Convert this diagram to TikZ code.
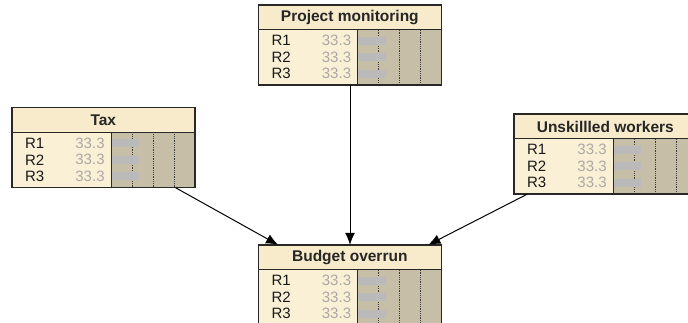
\documentclass[tikz,border=0pt]{standalone}
\usepackage{fontspec}
\setmainfont{Liberation Sans}
\usepackage{tikz}
\usetikzlibrary{arrows.meta}
\definecolor{TitleCream}{RGB}{248,235,204}
\definecolor{StateCream}{RGB}{250,240,214}
\definecolor{BarTaupe}{RGB}{199,190,168}
\definecolor{BarGrey}{RGB}{186,186,186}
\definecolor{ValueGrey}{RGB}{172,168,164}
\definecolor{FrameGrey}{RGB}{40,40,40}
\tikzstyle{netnode} = [rectangle, minimum width=183pt, minimum height=80pt, inner sep=0pt]
\tikzstyle{frame} = [draw=FrameGrey, line width=1.5pt]
\tikzstyle{divider} = [draw=FrameGrey, line width=1.1pt]
\tikzstyle{gridline} = [draw=black!75, line width=0.8pt, densely dotted]
\tikzstyle{titlelabel} = [inner sep=0pt, font=\fontsize{15.5}{16}\selectfont\bfseries, text=black!85]
\tikzstyle{statelabel} = [anchor=west, inner sep=0pt, font=\fontsize{15}{15}\selectfont, text=black!90]
\tikzstyle{valuelabel} = [anchor=east, inner sep=0pt, font=\fontsize{15}{15}\selectfont, text=ValueGrey]
\tikzstyle{line} = [draw, line width=1pt, -{Latex[length=12pt, width=10pt]}]

% one belief box: name, centre, title
\newcommand{\beliefbox}[3]{%
  \node (#1) [netnode] at (#2) {};
  \begin{scope}[shift={(#1.north west)}]
    \fill[StateCream] (0,0) rectangle (99.5,80);
    \fill[BarTaupe] (99.5,25) rectangle (183,80);
    \fill[TitleCream] (0,0) rectangle (183,25);
    \foreach \p in {0.25,0.5,0.75}
      \draw[gridline] (99.5+83.5*\p,25) -- (99.5+83.5*\p,80);
    \foreach \r/\y in {R1/36,R2/52.5,R3/69} {
      \fill[BarGrey] (99.5,\y-4) rectangle +(27.8,8);
      \node (#1-\r) [statelabel] at (13,\y) {\r};
      \node (#1-\r-val) [valuelabel] at (93,\y) {33.3};
    }
    \draw[divider] (0,25) -- (183,25) (99.5,25) -- (99.5,80);
    \node (#1-title) [titlelabel] at (91.5,13) {#3};
  \end{scope}
  \draw[frame] (#1.north west) rectangle (#1.south east);
}

\begin{document}
\begin{tikzpicture}[x=1pt, y=-1pt]
    \fill[white] (0,0) rectangle (688,322);
    \clip (0,0) rectangle (688,322);

    \beliefbox{monitoring}{350,45}{Project monitoring}
    \beliefbox{tax}{103.5,147.5}{Tax}
    \beliefbox{workers}{605.5,154}{Unskillled workers}
    \beliefbox{overrun}{350,285}{Budget overrun}

    \path [line]   (monitoring) -- (overrun);
    \path [line]   (tax)        -- (overrun);
    \path [line]   (workers)    -- (overrun);
\end{tikzpicture}
\end{document}
